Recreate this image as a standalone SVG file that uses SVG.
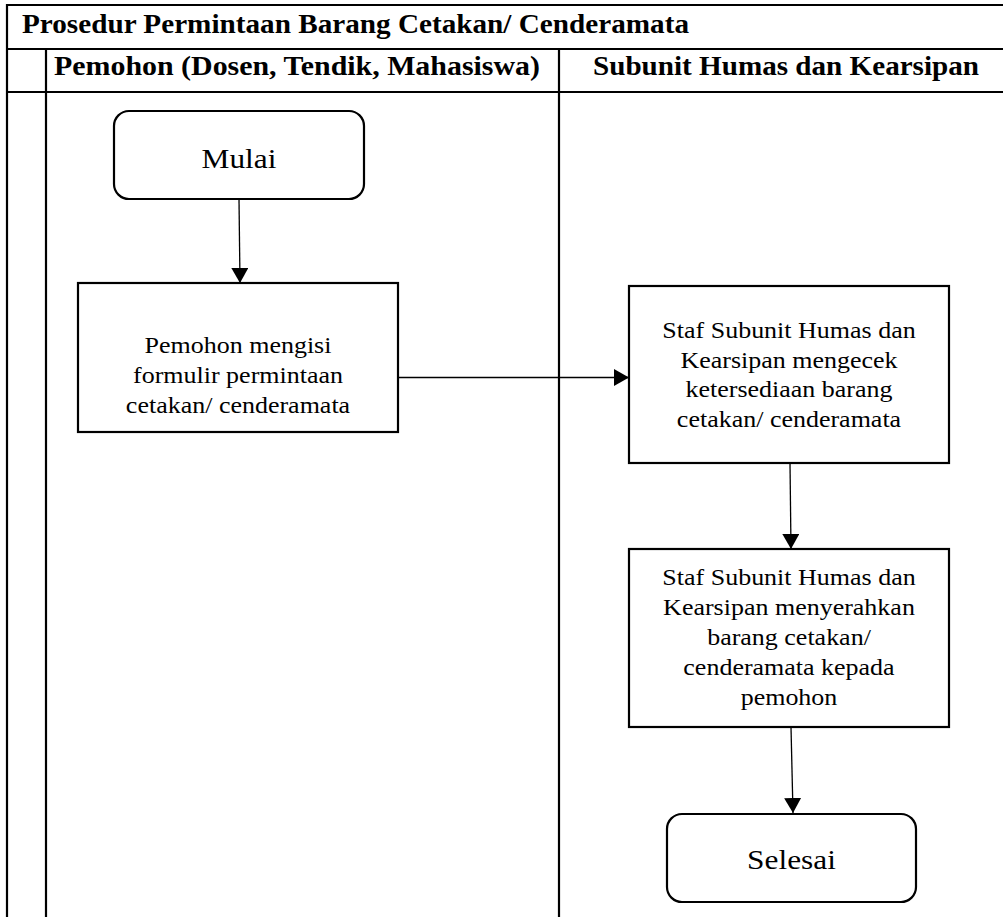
<svg xmlns="http://www.w3.org/2000/svg" width="1003" height="917" viewBox="0 0 1003 917">
<style>
.tbl{stroke:#000;stroke-width:2.2;fill:none}
.box{stroke:#000;stroke-width:2.2;fill:#fff}
.con{stroke:#000;stroke-width:1.3;fill:none}
.hd{font-family:"Liberation Serif","Times New Roman",serif;font-weight:bold;fill:#000}
.tx{font-family:"Liberation Serif","Times New Roman",serif;font-size:23px;fill:#000;text-anchor:middle}
.term{font-family:"Liberation Serif","Times New Roman",serif;font-size:28px;fill:#000;text-anchor:middle}
</style>
<defs>
<marker id="ah" markerUnits="userSpaceOnUse" markerWidth="16" markerHeight="18" refX="15" refY="8.5" orient="auto">
<path d="M0,0 L15,8.5 L0,17 z" fill="#000"/>
</marker>
</defs>
<rect width="1003" height="917" fill="#fff"/>
<g id="table">
<line class="tbl" x1="6" y1="5" x2="1003" y2="5"/>
<line class="tbl" x1="7" y1="4" x2="7" y2="917"/>
<line class="tbl" x1="6" y1="49" x2="1003" y2="49"/>
<line class="tbl" x1="6" y1="92" x2="1003" y2="92"/>
<line class="tbl" x1="46" y1="49" x2="46" y2="917"/>
<line class="tbl" x1="559" y1="49" x2="559" y2="917"/>
<text class="hd" x="22" y="33" font-size="28" textLength="667" lengthAdjust="spacingAndGlyphs">Prosedur Permintaan Barang Cetakan/ Cenderamata</text>
<text class="hd" x="297" y="75" font-size="27" text-anchor="middle" textLength="486" lengthAdjust="spacingAndGlyphs">Pemohon (Dosen, Tendik, Mahasiswa)</text>
<text class="hd" x="786" y="75" font-size="27" text-anchor="middle" textLength="386" lengthAdjust="spacingAndGlyphs">Subunit Humas dan Kearsipan</text>
</g>
<g id="connectors">
<line class="con" x1="239" y1="199" x2="240" y2="283" marker-end="url(#ah)"/>
<line class="con" x1="398" y1="377.5" x2="629" y2="377.5" marker-end="url(#ah)"/>
<line class="con" x1="790" y1="463" x2="791" y2="549" marker-end="url(#ah)"/>
<line class="con" x1="791" y1="727" x2="793" y2="813" marker-end="url(#ah)"/>
</g>
<g id="mulai">
<rect class="box" x="114" y="111" width="250" height="88" rx="15"/>
<g transform="translate(239 0) scale(1.12 1)"><text class="term" x="0" y="168">Mulai</text></g>
</g>
<g id="isi-formulir">
<rect class="box" x="78" y="283" width="320" height="149"/>
<g transform="translate(238 0) scale(1.13 1)">
<text class="tx" x="0" y="353">Pemohon mengisi</text>
<text class="tx" x="0" y="383">formulir permintaan</text>
<text class="tx" x="0" y="413">cetakan/ cenderamata</text>
</g>
</g>
<g id="cek-ketersediaan">
<rect class="box" x="629" y="286" width="320" height="177"/>
<g transform="translate(789 0) scale(1.13 1)">
<text class="tx" x="0" y="338">Staf Subunit Humas dan</text>
<text class="tx" x="0" y="368">Kearsipan mengecek</text>
<text class="tx" x="0" y="397.5">ketersediaan barang</text>
<text class="tx" x="0" y="427">cetakan/ cenderamata</text>
</g>
</g>
<g id="serahkan">
<rect class="box" x="629" y="549" width="320" height="178"/>
<g transform="translate(789 0) scale(1.13 1)">
<text class="tx" x="0" y="585">Staf Subunit Humas dan</text>
<text class="tx" x="0" y="615">Kearsipan menyerahkan</text>
<text class="tx" x="0" y="645">barang cetakan/</text>
<text class="tx" x="0" y="675">cenderamata kepada</text>
<text class="tx" x="0" y="705">pemohon</text>
</g>
</g>
<g id="selesai">
<rect class="box" x="667" y="814" width="249" height="88" rx="15"/>
<g transform="translate(791.5 0) scale(1.12 1)"><text class="term" x="0" y="869">Selesai</text></g>
</g>
</svg>
